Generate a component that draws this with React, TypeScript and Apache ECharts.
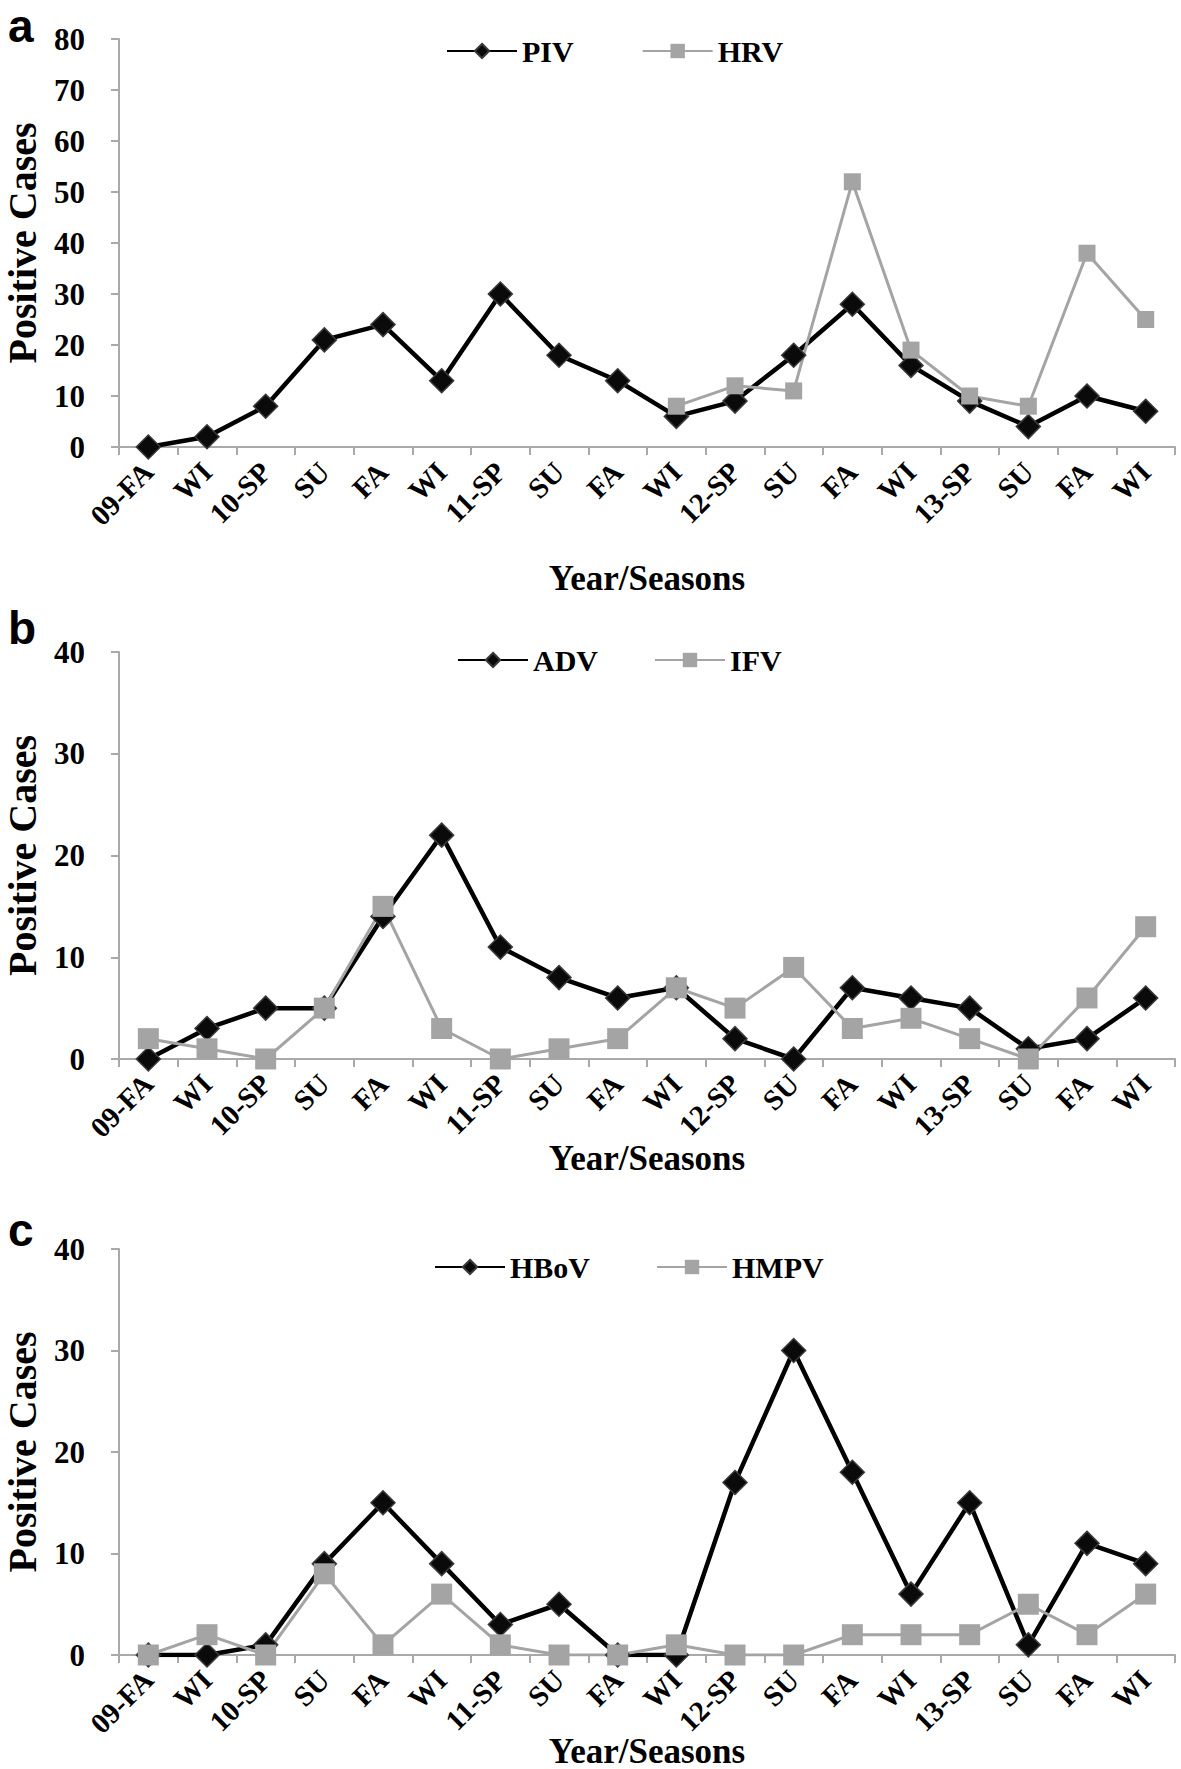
import React, { useEffect, useRef } from "react";
import * as echarts from "echarts";

const seasons = ["09-FA", "WI", "10-SP", "SU", "FA", "WI", "11-SP", "SU", "FA", "WI", "12-SP", "SU", "FA", "WI", "13-SP", "SU", "FA", "WI"];

const piv = [0, 2, 8, 21, 24, 13, 30, 18, 13, 6, 9, 18, 28, 16, 9, 4, 10, 7];
const hrv = [null, null, null, null, null, null, null, null, null, 8, 12, 11, 52, 19, 10, 8, 38, 25];

const adv = [0, 3, 5, 5, 14, 22, 11, 8, 6, 7, 2, 0, 7, 6, 5, 1, 2, 6];
const ifv = [2, 1, 0, 5, 15, 3, 0, 1, 2, 7, 5, 9, 3, 4, 2, 0, 6, 13];

const hbov = [0, 0, 1, 9, 15, 9, 3, 5, 0, 0, 17, 30, 18, 6, 15, 1, 11, 9];
const hmpv = [0, 2, 0, 8, 1, 6, 1, 0, 0, 1, 0, 0, 2, 2, 2, 5, 2, 6];

const yMax = [80, 40, 40];
const panelLetters = ["a", "b", "c"];
const seriesNames = [["PIV", "HRV"], ["ADV", "IFV"], ["HBoV", "HMPV"]];
const yTitle = "Positive Cases";
const xTitle = "Year/Seasons";

const FONT = "'Liberation Serif', 'Times New Roman', serif";
const SANS = "'Liberation Sans', Arial, sans-serif";
const GRAY = "#a4a4a4";
const AXIS = "#a9a9a9";

export default function App() {
  const ref = useRef<HTMLDivElement>(null);

  useEffect(() => {
    if (!ref.current) return;
    const chart = echarts.init(ref.current, undefined, { renderer: "svg" });

    const grids = [
      { left: 119, right: 6, top: 39, height: 408, outerBoundsMode: "none", containLabel: false },
      { left: 119, right: 6, top: 652, height: 407, outerBoundsMode: "none", containLabel: false },
      { left: 119, right: 6, top: 1249, height: 406, outerBoundsMode: "none", containLabel: false },
    ];
    const xNameGap = [117, 85, 82];
    const legendPos = [
      { left: 446, top: 36, itemGap: 68 },
      { left: 457, top: 645, itemGap: 56 },
      { left: 434, top: 1252, itemGap: 66 },
    ];
    const letterTop = [3, 605, 1207];
    const squareSize = [17, 21, 21];
    const data = [
      [piv, hrv],
      [adv, ifv],
      [hbov, hmpv],
    ];

    const xAxis = grids.map((_, i) => ({
      type: "category",
      gridIndex: i,
      data: seasons,
      boundaryGap: true,
      axisLine: { lineStyle: { color: AXIS, width: 2 } },
      axisTick: { show: true, length: 8, interval: 0, lineStyle: { color: AXIS, width: 2 } },
      axisLabel: {
        interval: 0,
        rotate: 45,
        fontFamily: FONT,
        fontWeight: "bold",
        fontSize: 29,
        color: "#000",
        margin: 20,
      },
      splitLine: { show: false },
      name: xTitle,
      nameLocation: "middle",
      nameGap: xNameGap[i],
      nameMoveOverlap: false,
      nameTextStyle: { fontFamily: FONT, fontWeight: "bold", fontSize: 35, lineHeight: 28, color: "#000" },
    }));

    const yAxis = grids.map((_, i) => ({
      type: "value",
      gridIndex: i,
      min: 0,
      max: yMax[i],
      interval: 10,
      axisLine: { show: true, lineStyle: { color: AXIS, width: 2 } },
      axisTick: { show: true, length: 8, lineStyle: { color: AXIS, width: 2 } },
      axisLabel: { fontFamily: FONT, fontWeight: "bold", fontSize: 31, color: "#000", margin: 34 },
      splitLine: { show: false },
      name: yTitle,
      nameLocation: "middle",
      nameGap: 79,
      nameMoveOverlap: false,
      nameTextStyle: { fontFamily: FONT, fontWeight: "bold", fontSize: 40, lineHeight: 36, color: "#000" },
    }));

    const series: any[] = [];
    data.forEach((pair, i) => {
      series.push({
        name: seriesNames[i][0],
        type: "line",
        xAxisIndex: i,
        yAxisIndex: i,
        data: pair[0],
        symbol: "diamond",
        symbolSize: 24,
        showAllSymbol: true,
        lineStyle: { color: "#000", width: 4.5 },
        itemStyle: { color: "#0a0a0a", borderColor: "#3a3a3a", borderWidth: 1.5 },
        emphasis: { disabled: true },
      });
      series.push({
        name: seriesNames[i][1],
        type: "line",
        xAxisIndex: i,
        yAxisIndex: i,
        data: pair[1],
        symbol: "rect",
        symbolSize: squareSize[i],
        showAllSymbol: true,
        lineStyle: { color: GRAY, width: 3 },
        itemStyle: { color: GRAY },
        emphasis: { disabled: true },
      });
    });

    const legend = legendPos.map((p, i) => ({
      data: seriesNames[i],
      left: p.left,
      top: p.top,
      itemGap: p.itemGap,
      padding: 0,
      itemWidth: 70,
      itemHeight: 18,
      selectedMode: false,
      textStyle: { fontFamily: FONT, fontWeight: "bold", fontSize: 30, color: "#000" },
    }));

    const graphic = panelLetters.map((t, i) => ({
      type: "text",
      left: 8,
      top: letterTop[i],
      style: { text: t, font: `bold 46px ${SANS}`, fill: "#000" },
    }));

    chart.setOption({
      animation: false,
      backgroundColor: "#fff",
      grid: grids,
      xAxis,
      yAxis,
      legend,
      series,
      graphic,
    });

    return () => chart.dispose();
  }, []);

  return (
    <div
      ref={ref}
      style={{ position: "absolute", left: 0, top: 0, width: 1181, height: 1769, background: "#fff" }}
    />
  );
}
